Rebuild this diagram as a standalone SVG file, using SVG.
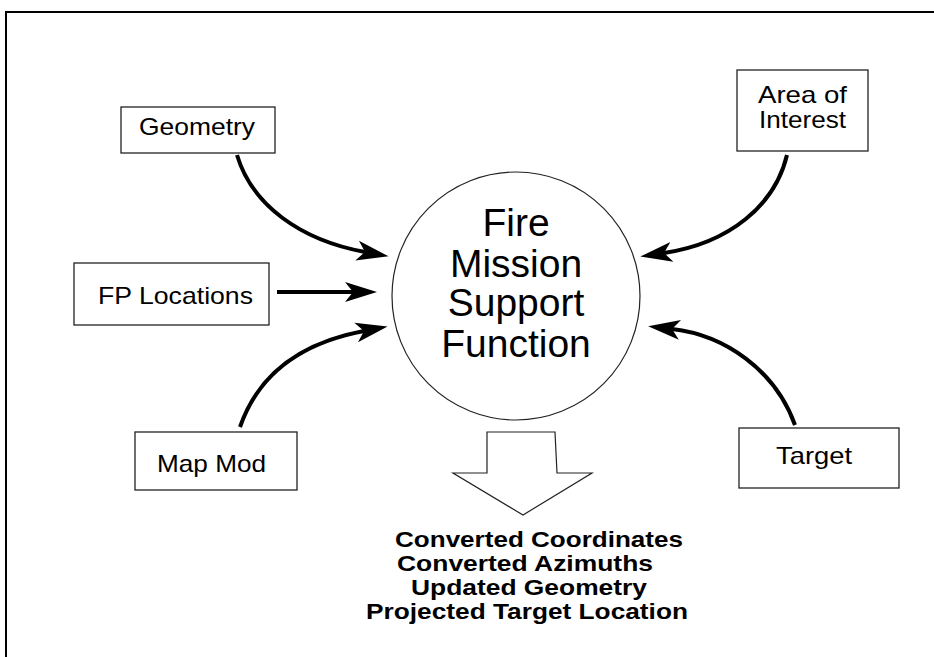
<svg xmlns="http://www.w3.org/2000/svg" width="934" height="657" viewBox="0 0 934 657">
<style>
.box{fill:#fff;stroke:#222;stroke-width:1.3}
.lbl{font-family:"Liberation Sans",Arial,sans-serif;font-size:24px;fill:#000}
.big{font-family:"Liberation Sans",Arial,sans-serif;font-size:39px;fill:#000;text-anchor:middle}
.out{font-family:"Liberation Sans",Arial,sans-serif;font-size:22px;font-weight:bold;fill:#000}
.conn{fill:none;stroke:#000;stroke-width:4;marker-end:url(#ah)}
</style>
<defs>
<marker id="ah" markerUnits="userSpaceOnUse" markerWidth="34" markerHeight="22" viewBox="0 -11 34 22" refX="8" refY="0" orient="auto">
<path d="M0,-10 L32,0 L0,10 L8,0 Z" fill="#000"/>
</marker>
</defs>
<rect width="934" height="657" fill="#fff"/>
<path d="M6,657 L6,12 L934,12" fill="none" stroke="#000" stroke-width="2"/>
<g id="circle">
<circle cx="516" cy="296" r="124" fill="#fff" stroke="#222" stroke-width="1.2"/>
<text class="big" x="516" y="236">Fire</text>
<text class="big" x="516" y="277">Mission</text>
<text class="big" x="516" y="316">Support</text>
<text class="big" x="516" y="357">Function</text>
</g>
<g id="geometry">
<rect class="box" x="121" y="107" width="154" height="46"/>
<text class="lbl" x="139" y="135" textLength="116" lengthAdjust="spacingAndGlyphs">Geometry</text>
</g>
<g id="area">
<rect class="box" x="737" y="70" width="131" height="81"/>
<text class="lbl" x="758" y="103" textLength="89" lengthAdjust="spacingAndGlyphs">Area of</text>
<text class="lbl" x="759" y="128" textLength="87" lengthAdjust="spacingAndGlyphs">Interest</text>
</g>
<g id="fp">
<rect class="box" x="74" y="263" width="195" height="62"/>
<text class="lbl" x="98" y="304" textLength="155" lengthAdjust="spacingAndGlyphs">FP Locations</text>
</g>
<g id="mapmod">
<rect class="box" x="135" y="432" width="162" height="58"/>
<text class="lbl" x="157" y="472" textLength="109" lengthAdjust="spacingAndGlyphs">Map Mod</text>
</g>
<g id="target">
<rect class="box" x="739" y="428" width="160" height="60"/>
<text class="lbl" x="776" y="464" textLength="76" lengthAdjust="spacingAndGlyphs">Target</text>
</g>
<g id="output">
<path d="M487,432 L555,432 L557,473 L592,473 L523,515 L453,473 L487,473 Z" fill="#fff" stroke="#222" stroke-width="1.2"/>
<text class="out" x="395" y="547" textLength="288" lengthAdjust="spacingAndGlyphs">Converted Coordinates</text>
<text class="out" x="397" y="571" textLength="256" lengthAdjust="spacingAndGlyphs">Converted Azimuths</text>
<text class="out" x="411" y="595" textLength="236" lengthAdjust="spacingAndGlyphs">Updated Geometry</text>
<text class="out" x="366" y="619" textLength="322" lengthAdjust="spacingAndGlyphs">Projected Target Location</text>
</g>
<g id="connectors">
<path class="conn" d="M237,155 C252,205 300,240 365,252"/>
<path class="conn" d="M277,292 L353,292"/>
<path class="conn" d="M240,427 C258,375 300,343 364,331"/>
<path class="conn" d="M787,155 C775,205 730,243 664,253"/>
<path class="conn" d="M795,425 C775,370 725,335 672,329"/>
</g>
</svg>
